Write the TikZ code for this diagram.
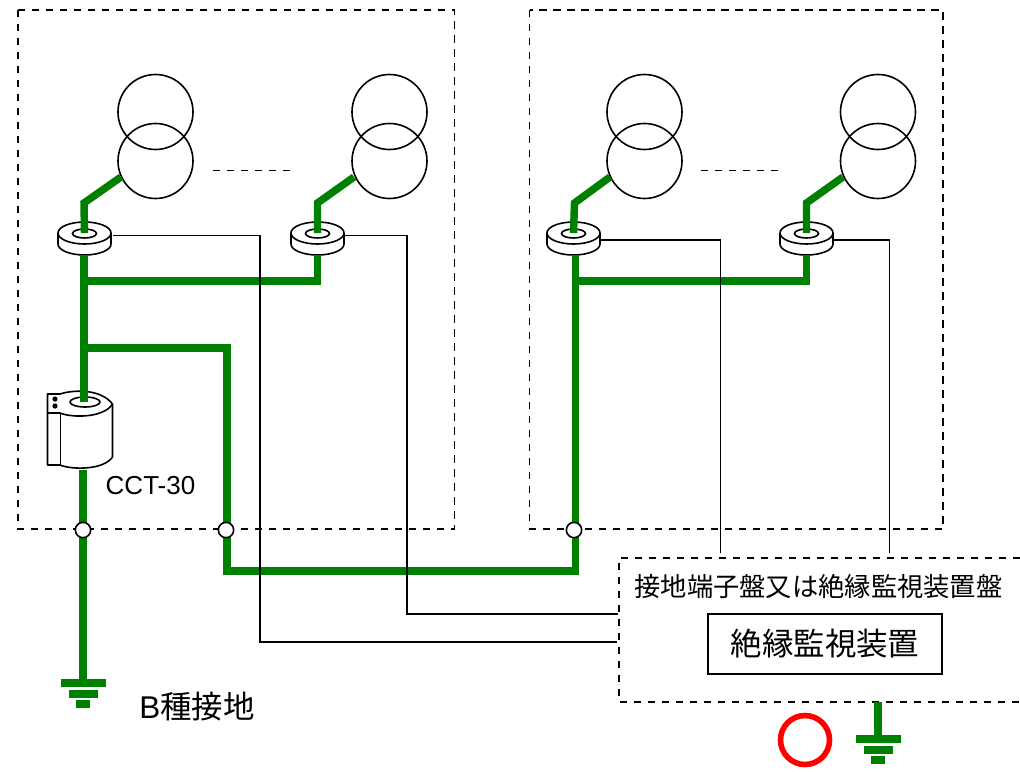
\documentclass[tikz,border=0pt]{standalone}
\usepackage{fontspec}
\setmainfont{Liberation Sans}
\newfontfamily\cjk{Noto Sans CJK JP}
\definecolor{earthgreen}{RGB}{0,128,0}
\tikzset{
    earth/.style={draw=earthgreen, line width=5.6pt, miter limit=10},
    wire/.style={draw=black, line width=1.1pt},
    outline/.style={draw=black, line width=1.2pt},
    boundary/.style={draw=black, line width=1.2pt, dash pattern=on 5.5pt off 5pt},
    junction/.style={circle, draw=black, fill=white, line width=1.2pt, minimum size=11.5pt, inner sep=0pt},
    monitorbox/.style={rectangle, draw=black, line width=1.3pt, minimum width=175pt, minimum height=44.5pt, inner sep=0pt}
}
\begin{document}
\begin{tikzpicture}[x=0.75pt, y=-0.75pt]
    \useasboundingbox (0,0) rectangle (1020,771);

    % transformers
    \coordinate (T1) at (155.5,112);
    \coordinate (T2) at (389.5,112);
    \coordinate (T3) at (644.5,112);
    \coordinate (T4) at (878,112);

    % rings and the elbows above them
    \coordinate (R1) at (84.5,233);
    \coordinate (R2) at (317.5,233);
    \coordinate (R3) at (573.5,233);
    \coordinate (R4) at (806.5,233);
    \coordinate (E1) at (84,203);
    \coordinate (E2) at (317.5,203);
    \coordinate (E3) at (574.5,203);
    \coordinate (E4) at (806.5,203);
    \coordinate (S1) at (121,177);
    \coordinate (S2) at (354,177);
    \coordinate (S3) at (610,177);
    \coordinate (S4) at (843,177);

    % earth bus
    \coordinate (A) at (84,255);
    \coordinate (B) at (84,281);
    \coordinate (C) at (84,348);
    \coordinate (D) at (84,402);
    \coordinate (F) at (83,470);
    \coordinate (G1) at (83,683);
    \coordinate (H) at (227,348);
    \coordinate (I) at (227,571);
    \coordinate (K) at (575.5,571);
    \coordinate (L) at (575.5,255);
    \coordinate (M) at (575.5,281);
    \coordinate (N) at (806.5,281);
    \coordinate (O) at (806.5,255);
    \coordinate (P) at (317.5,281);
    \coordinate (Q) at (317.5,255);
    \coordinate (G2) at (878,739);
    \coordinate (U) at (878,702);

    % wire ends
    \coordinate (W1) at (113,235.5);
    \coordinate (W2) at (260,235.5);
    \coordinate (W3) at (260,642);
    \coordinate (W4) at (617,642);
    \coordinate (W5) at (344,235.5);
    \coordinate (W6) at (407,235.5);
    \coordinate (W7) at (407,614);
    \coordinate (W8) at (618,614);
    \coordinate (W9) at (600,240);
    \coordinate (W10) at (720.5,240);
    \coordinate (W11) at (720.5,553);
    \coordinate (W12) at (833,240);
    \coordinate (W13) at (889.5,240);
    \coordinate (W14) at (889.5,553);

    % dashed enclosures
    \draw[boundary] (18,10) rectangle (454.5,529);
    \draw[boundary] (529.5,10) rectangle (943,529);
    \draw[boundary] (1020,558) -- (619,558) -- (619,702) -- (1020,702);
    \draw[boundary] (213,170.5) -- (297,170.5);
    \draw[boundary] (701,170.5) -- (785,170.5);

    \foreach \trans in {T1,T2,T3,T4}
    {
        \draw[outline, shift={(\trans)}] (0,0) circle (37.5);
        \draw[outline, shift={(\trans)}] (0,49) circle (37.5);
    }

    \foreach \ring in {R1,R2,R3,R4}
    {
        \begin{scope}[shift={(\ring)}]
            \draw[outline, fill=white] (-26.5,0) -- (-26.5,11) arc (180:360:26.5 and -11) -- (26.5,0);
            \draw[outline, fill=white] (0,0) ellipse (26.5 and 11);
            \draw[outline] (0,0.5) ellipse (12 and 4.5);
        \end{scope}
    }

    % current transformer body
    \draw[outline, line join=round, fill=white] (47.5,394) -- (60,394) .. controls (72,390) and (100,388) .. (112.5,404) -- (112.5,457) .. controls (104,470) and (72,470) .. (60,465) -- (47.5,465) -- cycle;
    \draw[outline] (47.5,413) -- (60,413) .. controls (72,418) and (104,418) .. (112.5,404);
    \draw[outline] (60.5,413) -- (60.5,465);
    \draw[outline] (85,402) ellipse (15 and 5);
    \fill (55,399) circle (2.6);
    \fill (55,406) circle (2.6);

    % earth wiring
    \draw[earth] (S1) -- (E1) -- (R1);
    \draw[earth] (S2) -- (E2) -- (R2);
    \draw[earth] (S3) -- (E3) -- (R3);
    \draw[earth] (S4) -- (E4) -- (R4);
    \draw[earth] (A) -- (D);
    \draw[earth] (F) -- (G1);
    \draw[earth] (B) -- (P) -- (Q);
    \draw[earth] (C) -- (H) -- (I) -- (K) -- (L);
    \draw[earth] (M) -- (N) -- (O);
    \draw[earth] (U) -- (G2);

    \foreach \ground in {G1,G2}
    {
        \begin{scope}[shift={(\ground)}]
            \draw[earth] (-22.5,0) -- (22.5,0);
            \draw[earth] (-14.5,11) -- (14.5,11);
            \draw[earth] (-7,21) -- (7,21);
        \end{scope}
    }

    % signal wires
    \draw[wire] (W1) -- (W2) -- (W3) -- (W4);
    \draw[wire] (W5) -- (W6) -- (W7) -- (W8);
    \draw[wire] (W9) -- (W10) -- (W11);
    \draw[wire] (W12) -- (W13) -- (W14);

    \node[junction] (J1) at (83,530) {};
    \node[junction] (J2) at (226,530) {};
    \node[junction] (J3) at (574,530) {};

    \node[monitorbox] (monitor) at (825,644) {\fontsize{23.6}{28}\selectfont\cjk 絶縁監視装置};
    \node (panel) at (818.5,587) {\fontsize{19.7}{24}\selectfont\cjk 接地端子盤又は絶縁監視装置盤};
    \node (cct) at (150.5,486) {\fontsize{19.5}{24}\selectfont CCT-30};
    \node (bearth) at (197,707) {\fontsize{23.6}{28}\selectfont B{\cjk 種接地}};

    \draw[draw=red, line width=4.2pt] (805,740) circle (24.5);
\end{tikzpicture}
\end{document}
